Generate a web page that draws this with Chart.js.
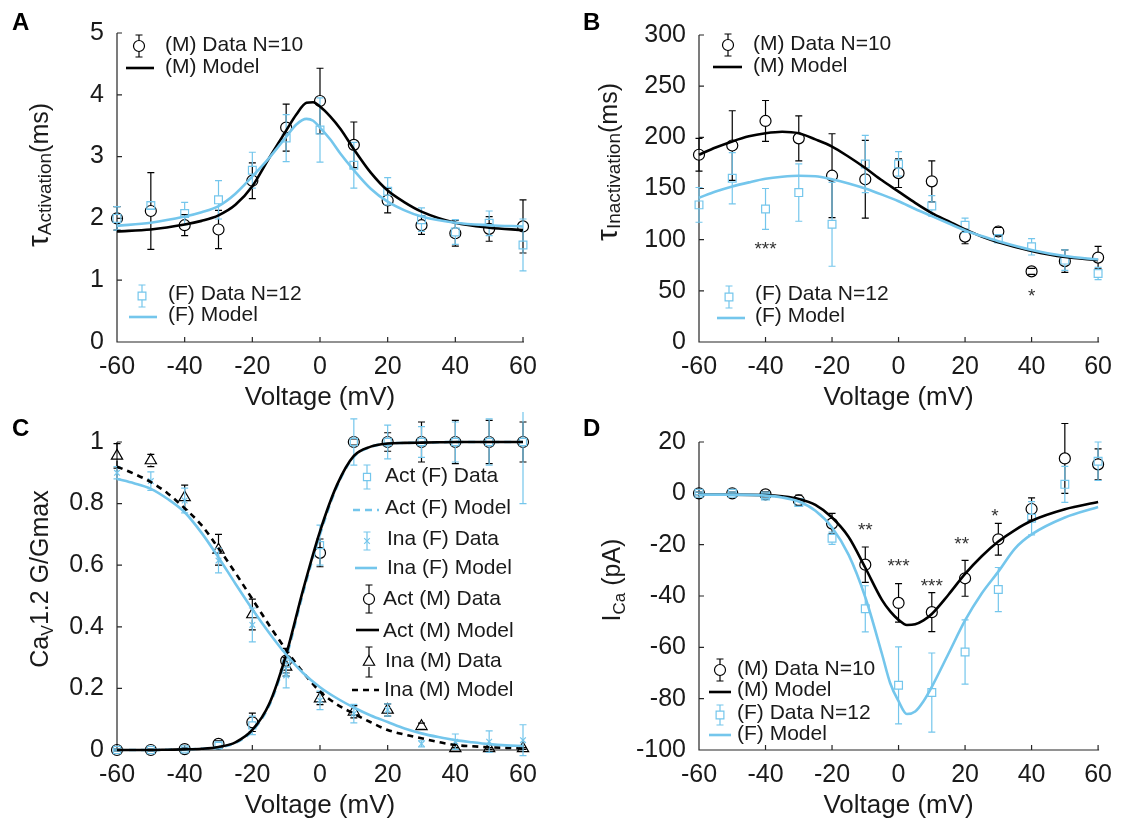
<!DOCTYPE html>
<html>
<head>
<meta charset="utf-8">
<title>CaV1.2 kinetics</title>
<script src="https://cdn.jsdelivr.net/npm/chart.js@4.4.1/dist/chart.umd.min.js"></script>
<style>
  body { margin: 0; background: #fff; }
  #wrap { position: relative; width: 1122px; height: 825px; overflow: hidden; }
  canvas { position: absolute; }
</style>
</head>
<body>
<div id="wrap">
  <canvas id="chartA" width="561" height="412" style="left:0;top:0"></canvas>
  <canvas id="chartB" width="561" height="412" style="left:561px;top:0"></canvas>
  <canvas id="chartC" width="561" height="413" style="left:0;top:412px"></canvas>
  <canvas id="chartD" width="561" height="413" style="left:561px;top:412px"></canvas>
</div>
<script>
// Datos
const voltage = [-60, -50, -40, -30, -20, -10, 0, 10, 20, 30, 40, 50, 60];

// A: tau de activacion
const tauActM = [2.00, 2.12, 1.89, 1.82, 2.61, 3.47, 3.90, 3.19, 2.29, 1.89, 1.76, 1.83, 1.87];
const tauActMErr = [0.19, 0.62, 0.17, 0.31, 0.29, 0.38, 0.53, 0.37, 0.20, 0.15, 0.21, 0.20, 0.43];
const tauActF = [2.00, 2.21, 2.08, 2.30, 2.78, 3.30, 3.43, 2.86, 2.44, 1.98, 1.78, 1.92, 1.57];
const tauActFErr = [0.19, 0.06, 0.18, 0.31, 0.29, 0.38, 0.52, 0.37, 0.22, 0.19, 0.20, 0.20, 0.42];
const modelVoltA = [-60, -50, -40, -35, -30, -25, -20, -15, -10, -7, -4, -2, 0, 3, 6, 10, 15, 20, 25, 30, 40, 50, 60];
const tauActModelM = [1.79, 1.82, 1.90, 1.96, 2.05, 2.22, 2.52, 2.98, 3.42, 3.68, 3.87, 3.88, 3.81, 3.65, 3.45, 3.12, 2.74, 2.45, 2.26, 2.11, 1.93, 1.85, 1.81];
const tauActModelF = [1.88, 1.93, 2.03, 2.10, 2.20, 2.40, 2.68, 2.98, 3.32, 3.52, 3.61, 3.58, 3.47, 3.28, 3.05, 2.78, 2.48, 2.27, 2.13, 2.03, 1.93, 1.89, 1.87];

// B: tau de inactivacion
const tauInaM = [183, 192, 216, 199, 162.5, 159, 165, 157, 103, 108, 69, 79, 82.5];
const tauInaMErr = [16, 34, 20, 22, 41, 38, 14, 20, 7, 4, 3, 11, 11];
const tauInaF = [134, 160, 130, 146, 115, 174, 174, 133, 114, 101, 93, 80, 67];
const tauInaFErr = [17, 25, 20, 28, 41, 28, 12, 10, 7, 4, 8, 10, 6];
const modelVoltB = [-60, -55, -50, -45, -40, -35, -30, -25, -20, -15, -10, -5, 0, 5, 10, 15, 20, 25, 30, 40, 50, 60];
const tauInaModelM = [183, 190, 196, 201, 204, 205.5, 204, 198, 191, 181, 170, 158, 147, 136, 126, 118, 110, 103, 97.5, 89, 83, 80];
const tauInaModelF = [141, 147, 152, 156, 159.5, 161.5, 162.5, 162, 159, 155, 150, 144, 137.5, 130, 123, 116, 109, 103.5, 98.5, 90, 84, 80.6];
const starsB = [{ x: -40, y: 94, t: "***" }, { x: 40, y: 48, t: "*" }];

// C: G/Gmax
const actGM = [0, 0, 0.003, 0.02, 0.09, 0.29, 0.64, 1.0, 1.0, 1.0, 1.0, 1.0, 1.0];
const actGMErr = [0.003, 0.003, 0.004, 0.01, 0.03, 0.04, 0.045, 0.01, 0.03, 0.065, 0.07, 0.07, 0.065];
const actGF = [0, 0, 0.002, 0.015, 0.08, 0.28, 0.665, 1.0, 1.0, 1.0, 1.0, 1.0, 1.0];
const actGFErr = [0.003, 0.003, 0.004, 0.01, 0.03, 0.04, 0.065, 0.075, 0.055, 0.05, 0.065, 0.075, 0.2];
const inaGM = [0.955, 0.94, 0.82, 0.65, 0.44, 0.27, 0.167, 0.124, 0.13, 0.077, 0.005, 0.005, 0.005];
const inaGMErr = [0.04, 0.02, 0.04, 0.05, 0.05, 0.03, 0.02, 0.02, 0.02, 0.01, 0.003, 0.003, 0.003];
const inaGF = [0.90, 0.873, 0.81, 0.615, 0.406, 0.242, 0.161, 0.118, 0.13, 0.02, 0.027, 0.027, 0.032];
const inaGFErr = [0.02, 0.03, 0.04, 0.04, 0.055, 0.04, 0.03, 0.03, 0.02, 0.01, 0.025, 0.035, 0.05];
const modelVoltC = [-60, -55, -50, -45, -40, -35, -30, -25, -20, -15, -10, -5, 0, 5, 10, 15, 20, 25, 30, 35, 40, 45, 50, 55, 60];
const actModelM = [0, 0, 0, 0.001, 0.002, 0.004, 0.01, 0.025, 0.065, 0.15, 0.31, 0.52, 0.71, 0.86, 0.955, 0.985, 0.995, 0.997, 0.998, 0.999, 1, 1, 1, 1, 1];
const actModelF = [0, 0, 0, 0.001, 0.002, 0.004, 0.009, 0.023, 0.062, 0.145, 0.30, 0.51, 0.70, 0.855, 0.952, 0.984, 0.995, 0.997, 0.998, 0.999, 1, 1, 1, 1, 1];
const inaModelM = [0.92, 0.897, 0.87, 0.833, 0.785, 0.73, 0.655, 0.575, 0.49, 0.405, 0.325, 0.252, 0.19, 0.148, 0.118, 0.09, 0.065, 0.05, 0.038, 0.026, 0.016, 0.012, 0.009, 0.007, 0.005];
const inaModelF = [0.88, 0.866, 0.848, 0.815, 0.772, 0.705, 0.625, 0.54, 0.457, 0.38, 0.31, 0.25, 0.204, 0.168, 0.138, 0.112, 0.091, 0.07, 0.054, 0.042, 0.032, 0.025, 0.019, 0.015, 0.013];
const gTickLabels = ["0", "0.2", "0.4", "0.6", "0.8", "1"];

// D: corriente I_Ca
const icaM = [0, 0, -0.4, -2.7, -11.8, -27.8, -42.7, -46.3, -33.1, -17.9, -6.1, 13.6, 11.3];
const icaMErr = [0.5, 0.5, 1, 2, 4, 6.9, 7.5, 7.6, 7, 6.2, 4.3, 13.6, 6];
const icaF = [0, 0, -1, -3.6, -17.5, -45, -74.8, -77.6, -61.8, -37.5, -9.7, 3.5, 12.5];
const icaFErr = [0.5, 0.5, 1, 1.5, 2.4, 9, 15, 15.4, 12.5, 8.6, 6.5, 7, 7.5];
const modelVoltD = [-60, -50, -40, -35, -30, -25, -20, -15, -10, -5, -2.5, 0, 2.5, 5, 7.5, 10, 15, 20, 25, 30, 35, 40, 50, 60];
const icaModelM = [-0.5, -0.5, -0.7, -1.2, -2.2, -4.5, -9.4, -17, -29, -41.5, -46, -49.3, -51.3, -51, -49.5, -47, -39.5, -31.4, -24.5, -18.8, -14.3, -10.7, -6.2, -3.4];
const icaModelF = [-0.5, -0.5, -0.9, -1.6, -3.2, -6.8, -13.3, -24, -40.5, -62.5, -74, -81, -86, -85, -81, -75.4, -62.5, -49.5, -39, -30.5, -21.5, -16, -9.4, -5.3];
const starsD = [
  { x: -10, y: -13, t: "**" }, { x: 0, y: -27, t: "***" }, { x: 10, y: -35, t: "***" },
  { x: 19, y: -18.5, t: "**" }, { x: 29, y: -7.5, t: "*" }
];

const FONT = '"Liberation Sans", Arial, sans-serif';
const BLUE = "#74c6ec";
const BLACK = "#000000";

const pts = (xs, ys) => xs.map((x, i) => ({ x: x, y: ys[i] }));

function dataSet(label, ys, err, color, style, radius, gap) {
  return {
    label: label, data: pts(voltage, ys), err: err, errGap: gap,
    showLine: false, borderColor: color, backgroundColor: "rgba(0,0,0,0)",
    pointStyle: style, pointRadius: radius, pointHoverRadius: radius,
    pointBorderWidth: 1.2, clip: false
  };
}

function modelSet(label, xs, ys, color, dash) {
  return {
    label: label, data: pts(xs, ys), showLine: true, borderColor: color,
    borderWidth: 2.6, borderDash: dash || [], pointRadius: 0,
    cubicInterpolationMode: "monotone", fill: false, clip: false
  };
}

// Dibujo de una marca (leyenda)
function drawMarker(ctx, style, x, y, r) {
  ctx.beginPath();
  if (style === "circle") {
    ctx.arc(x, y, r, 0, Math.PI * 2);
  } else if (style === "rect") {
    const s = r * Math.SQRT1_2;
    ctx.rect(x - s, y - s, 2 * s, 2 * s);
  } else if (style === "triangle") {
    ctx.moveTo(x, y - r);
    ctx.lineTo(x + r * 0.866, y + r * 0.5);
    ctx.lineTo(x - r * 0.866, y + r * 0.5);
    ctx.closePath();
  } else {
    ctx.moveTo(x - r * 0.7, y - r * 0.7); ctx.lineTo(x + r * 0.7, y + r * 0.7);
    ctx.moveTo(x + r * 0.7, y - r * 0.7); ctx.lineTo(x - r * 0.7, y + r * 0.7);
  }
  ctx.stroke();
}

function drawBar(ctx, x, top, bottom, cy, gap) {
  ctx.beginPath();
  if (cy - gap > top) { ctx.moveTo(x, top); ctx.lineTo(x, cy - gap); }
  if (cy + gap < bottom) { ctx.moveTo(x, cy + gap); ctx.lineTo(x, bottom); }
  ctx.moveTo(x - 3.5, top); ctx.lineTo(x + 3.5, top);
  ctx.moveTo(x - 3.5, bottom); ctx.lineTo(x + 3.5, bottom);
  ctx.stroke();
}

// Barras de error
const errorBars = {
  id: "errorBars",
  afterDatasetDraw(chart, args) {
    const ds = chart.data.datasets[args.index];
    if (!ds.err) return;
    const ctx = chart.ctx, x = chart.scales.x, y = chart.scales.y;
    ctx.save();
    ctx.strokeStyle = ds.borderColor;
    ctx.lineWidth = 1.2;
    ds.data.forEach((p, i) => {
      const e = ds.err[i];
      const px = x.getPixelForValue(p.x);
      const top = y.getPixelForValue(p.y + e);
      const bottom = y.getPixelForValue(p.y - e);
      drawBar(ctx, px, top, bottom, y.getPixelForValue(p.y), ds.errGap);
    });
    ctx.restore();
  }
};

// Ejes, marcas internas, titulos y letra del panel
const panelDecor = {
  id: "panelDecor",
  beforeDatasetsDraw(chart) {
    const ctx = chart.ctx, a = chart.chartArea, x = chart.scales.x, y = chart.scales.y;
    ctx.save();
    ctx.strokeStyle = "#262626";
    ctx.lineWidth = 1.2;
    ctx.beginPath();
    ctx.moveTo(a.left, a.top); ctx.lineTo(a.left, a.bottom); ctx.lineTo(a.right + 1, a.bottom);
    x.ticks.forEach(t => {
      const px = x.getPixelForValue(t.value);
      ctx.moveTo(px, a.bottom); ctx.lineTo(px, a.bottom - 5);
    });
    y.ticks.forEach(t => {
      const py = y.getPixelForValue(t.value);
      ctx.moveTo(a.left, py); ctx.lineTo(a.left + 5, py);
    });
    ctx.stroke();
    ctx.restore();
  },
  afterDraw(chart, args, opts) {
    const ctx = chart.ctx, a = chart.chartArea;
    ctx.save();
    ctx.fillStyle = "#000";
    ctx.font = "bold 24px " + FONT;
    ctx.textAlign = "left";
    ctx.textBaseline = "alphabetic";
    ctx.fillText(opts.letter, opts.letterX, opts.letterY);

    ctx.fillStyle = "#1a1a1a";
    ctx.font = "26px " + FONT;
    ctx.textAlign = "center";
    ctx.fillText("Voltage (mV)", (a.left + a.right) / 2, a.bottom + 63);

    // titulo Y con subindice, girado
    ctx.translate(opts.titleX, opts.titleY);
    ctx.rotate(-Math.PI / 2);
    ctx.textAlign = "left";
    let total = 0;
    opts.title.forEach(p => { ctx.font = p.size + "px " + FONT; total += ctx.measureText(p.t).width; });
    let u = -total / 2;
    opts.title.forEach(p => {
      ctx.font = p.size + "px " + FONT;
      ctx.fillText(p.t, u, p.dy || 0);
      u += ctx.measureText(p.t).width;
    });
    ctx.restore();
  }
};

// Leyenda dibujada dentro del area
const panelLegend = {
  id: "panelLegend",
  afterDraw(chart, args, opts) {
    const ctx = chart.ctx;
    ctx.save();
    opts.items.forEach(it => {
      ctx.strokeStyle = it.color;
      if (it.line) {
        ctx.lineWidth = 2.6;
        ctx.setLineDash(it.dash || []);
        ctx.beginPath();
        ctx.moveTo(it.x1, it.y); ctx.lineTo(it.x2, it.y);
        ctx.stroke();
        ctx.setLineDash([]);
      } else {
        ctx.lineWidth = 1.2;
        drawMarker(ctx, it.style, it.mx, it.y, it.r);
        drawBar(ctx, it.mx, it.y - it.bar, it.y + it.bar, it.y, it.gap);
      }
      ctx.fillStyle = "#1a1a1a";
      ctx.font = "21px " + FONT;
      ctx.textAlign = "left";
      ctx.textBaseline = "middle";
      ctx.fillText(it.text, it.tx, it.ty);
    });
    ctx.restore();
  }
};

// Asteriscos de significancia
const stars = {
  id: "stars",
  afterDraw(chart, args, opts) {
    if (!opts.items) return;
    const ctx = chart.ctx, x = chart.scales.x, y = chart.scales.y;
    ctx.save();
    ctx.fillStyle = "#333";
    ctx.font = "19px " + FONT;
    ctx.textAlign = "center";
    ctx.textBaseline = "middle";
    opts.items.forEach(s => ctx.fillText(s.t, x.getPixelForValue(s.x), y.getPixelForValue(s.y) + 4));
    ctx.restore();
  }
};

function panelOptions(p) {
  const tickFont = { family: FONT, size: 25 };
  const yTicks = { stepSize: p.ystep, font: tickFont, color: "#1a1a1a", padding: 13, autoSkip: false };
  if (p.yLabels) yTicks.callback = (v, i) => p.yLabels[i];
  return {
    responsive: false,
    animation: false,
    events: [],
    layout: { autoPadding: false, padding: p.padding },
    scales: {
      x: {
        type: "linear", min: -60, max: 60,
        ticks: { stepSize: 20, font: tickFont, color: "#1a1a1a", padding: 10, maxRotation: 0, autoSkip: false },
        grid: { display: false, drawTicks: false },
        border: { display: false },
        afterFit: s => { s.height = p.xh; }
      },
      y: {
        type: "linear", min: p.ymin, max: p.ymax,
        ticks: yTicks,
        grid: { display: false, drawTicks: false },
        border: { display: false },
        afterFit: s => { s.width = p.yw; }
      }
    },
    plugins: {
      legend: { display: false },
      tooltip: { enabled: false },
      panelDecor: p.decor,
      panelLegend: { items: p.legend },
      stars: { items: p.stars || [] }
    }
  };
}

const plugins = [errorBars, panelDecor, panelLegend, stars];

// Panel A
new Chart(document.getElementById("chartA"), {
  type: "scatter",
  data: {
    datasets: [
      modelSet("(F) Model", modelVoltA, tauActModelF, BLUE),
      modelSet("(M) Model", modelVoltA, tauActModelM, BLACK),
      dataSet("(F) Data N=12", tauActF, tauActFErr, BLUE, "rect", 5.5, 4),
      dataSet("(M) Data N=10", tauActM, tauActMErr, BLACK, "circle", 5.5, 5.5)
    ]
  },
  options: panelOptions({
    padding: { left: 0, top: 33, right: 38, bottom: 0 }, xh: 70, yw: 117,
    ymin: 0, ymax: 5, ystep: 1,
    decor: {
      letter: "A", letterX: 12, letterY: 30, titleX: 48, titleY: 175,
      title: [{ t: "\u03c4", size: 30 }, { t: "Activation", size: 19, dy: 3 }, { t: "(ms)", size: 25 }]
    },
    legend: [
      { style: "circle", color: BLACK, mx: 139, y: 46, r: 5.5, bar: 11, gap: 5.5, text: "(M) Data N=10", tx: 165, ty: 45 },
      { line: true, color: BLACK, x1: 126, x2: 154, y: 68, text: "(M) Model", tx: 165, ty: 67 },
      { style: "rect", color: BLUE, mx: 142, y: 296, r: 5.5, bar: 11, gap: 4, text: "(F) Data N=12", tx: 168, ty: 294 },
      { line: true, color: BLUE, x1: 129, x2: 157, y: 317, text: "(F) Model", tx: 168, ty: 315 }
    ]
  }),
  plugins: plugins
});

// Panel B
new Chart(document.getElementById("chartB"), {
  type: "scatter",
  data: {
    datasets: [
      modelSet("(F) Model", modelVoltB, tauInaModelF, BLUE),
      modelSet("(M) Model", modelVoltB, tauInaModelM, BLACK),
      dataSet("(F) Data N=12", tauInaF, tauInaFErr, BLUE, "rect", 5.5, 4),
      dataSet("(M) Data N=10", tauInaM, tauInaMErr, BLACK, "circle", 5.5, 5.5)
    ]
  },
  options: panelOptions({
    padding: { left: 0, top: 35, right: 15, bottom: 0 }, xh: 70, yw: 138,
    ymin: 0, ymax: 300, ystep: 50,
    decor: {
      letter: "B", letterX: 22, letterY: 30, titleX: 56, titleY: 162,
      title: [{ t: "\u03c4", size: 30 }, { t: "Inactivation", size: 19, dy: 3 }, { t: "(ms)", size: 25 }]
    },
    stars: starsB,
    legend: [
      { style: "circle", color: BLACK, mx: 167, y: 45, r: 5.5, bar: 11, gap: 5.5, text: "(M) Data N=10", tx: 192, ty: 44 },
      { line: true, color: BLACK, x1: 152, x2: 181, y: 67, text: "(M) Model", tx: 192, ty: 66 },
      { style: "rect", color: BLUE, mx: 168, y: 297, r: 5.5, bar: 11, gap: 4, text: "(F) Data N=12", tx: 194, ty: 294 },
      { line: true, color: BLUE, x1: 156, x2: 184, y: 318, text: "(F) Model", tx: 194, ty: 316 }
    ]
  }),
  plugins: plugins
});

// Panel C
new Chart(document.getElementById("chartC"), {
  type: "scatter",
  data: {
    datasets: [
      modelSet("Ina (F) Model", modelVoltC, inaModelF, BLUE),
      modelSet("Act (M) Model", modelVoltC, actModelM, BLACK),
      modelSet("Act (F) Model", modelVoltC, actModelF, BLUE, [7, 5]),
      modelSet("Ina (M) Model", modelVoltC, inaModelM, BLACK, [6, 5]),
      dataSet("Act (F) Data", actGF, actGFErr, BLUE, "rect", 5, 3.5),
      dataSet("Ina (F) Data", inaGF, inaGFErr, BLUE, "crossRot", 4, 0),
      dataSet("Act (M) Data", actGM, actGMErr, BLACK, "circle", 5.5, 5.5),
      dataSet("Ina (M) Data", inaGM, inaGMErr, BLACK, "triangle", 6.5, 5)
    ]
  },
  options: panelOptions({
    padding: { left: 0, top: 30, right: 38, bottom: 0 }, xh: 75, yw: 117,
    ymin: 0, ymax: 1, ystep: 0.2, yLabels: gTickLabels,
    decor: {
      letter: "C", letterX: 12, letterY: 24, titleX: 48, titleY: 167,
      title: [{ t: "Ca", size: 25 }, { t: "V", size: 16, dy: 5 }, { t: "1.2 G/Gmax", size: 25 }]
    },
    legend: [
      { style: "rect", color: BLUE, mx: 367, y: 65, r: 5, bar: 12, gap: 3.5, text: "Act (F) Data", tx: 385, ty: 64 },
      { line: true, color: BLUE, dash: [7, 5], x1: 353, x2: 379, y: 98, text: "Act (F) Model", tx: 385, ty: 96 },
      { style: "cross", color: BLUE, mx: 367, y: 129, r: 4, bar: 9, gap: 0, text: "Ina (F) Data", tx: 387, ty: 127 },
      { line: true, color: BLUE, x1: 355, x2: 377, y: 156, text: "Ina (F) Model", tx: 387, ty: 156 },
      { style: "circle", color: BLACK, mx: 369, y: 187, r: 5.5, bar: 14, gap: 5.5, text: "Act (M) Data", tx: 383, ty: 187 },
      { line: true, color: BLACK, x1: 356, x2: 379, y: 218, text: "Act (M) Model", tx: 383, ty: 219 },
      { style: "triangle", color: BLACK, mx: 369, y: 250, r: 6.5, bar: 15, gap: 5, text: "Ina (M) Data", tx: 385, ty: 249 },
      { line: true, color: BLACK, dash: [6, 5], x1: 352, x2: 379, y: 278, text: "Ina (M) Model", tx: 384, ty: 278 }
    ]
  }),
  plugins: plugins
});

// Panel D
new Chart(document.getElementById("chartD"), {
  type: "scatter",
  data: {
    datasets: [
      modelSet("(F) Model", modelVoltD, icaModelF, BLUE),
      modelSet("(M) Model", modelVoltD, icaModelM, BLACK),
      dataSet("(F) Data N=12", icaF, icaFErr, BLUE, "rect", 5.5, 4),
      dataSet("(M) Data N=10", icaM, icaMErr, BLACK, "circle", 5.5, 5.5)
    ]
  },
  options: panelOptions({
    padding: { left: 0, top: 30, right: 15, bottom: 0 }, xh: 75, yw: 138,
    ymin: -100, ymax: 20, ystep: 20,
    decor: {
      letter: "D", letterX: 22, letterY: 24, titleX: 59, titleY: 168,
      title: [{ t: "I", size: 25 }, { t: "Ca", size: 17, dy: 5 }, { t: " (pA)", size: 25 }]
    },
    stars: starsD,
    legend: [
      { style: "circle", color: BLACK, mx: 159, y: 258, r: 5.5, bar: 11, gap: 5.5, text: "(M) Data N=10", tx: 176, ty: 257 },
      { line: true, color: BLACK, x1: 148, x2: 170, y: 280, text: "(M) Model", tx: 176, ty: 278 },
      { style: "rect", color: BLUE, mx: 159, y: 303, r: 5.5, bar: 10, gap: 4, text: "(F) Data N=12", tx: 176, ty: 301 },
      { line: true, color: BLUE, x1: 148, x2: 170, y: 323, text: "(F) Model", tx: 176, ty: 322 }
    ]
  }),
  plugins: plugins
});
</script>
</body>
</html>
